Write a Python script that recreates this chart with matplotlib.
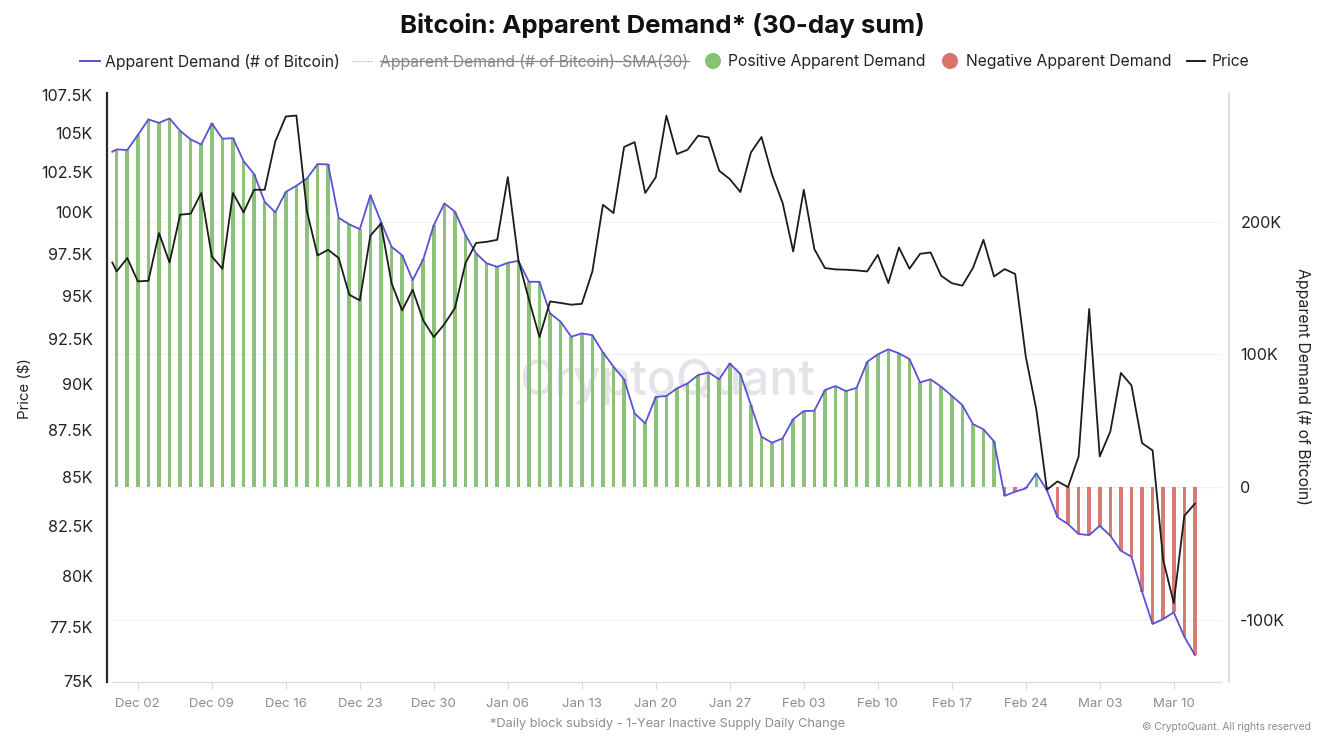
import matplotlib
matplotlib.use("Agg")
import matplotlib.pyplot as plt
import matplotlib.dates as mdates
import pandas as pd
from matplotlib.lines import Line2D
from matplotlib.patches import Ellipse
from matplotlib.ticker import FixedLocator, FixedFormatter, NullLocator
from matplotlib.transforms import ScaledTranslation

plt.rcParams['font.family'] = ['Inter', 'DejaVu Sans']

dates = pd.date_range('2024-11-30', periods=103, freq='D')
lead_in_date = pd.Timestamp('2024-11-29 14:00')

# Apparent demand, thousands of BTC (30-day sum)
demand_lead = 252.7
demand = [254.5, 254.0, 265.3, 277.1, 274.5, 277.8, 268.5, 262.0, 258.2, 274.1,
          262.5, 263.0, 245.7, 235.9, 215.0, 207.0, 222.5, 227.1, 232.6, 243.4,
          243.2, 202.9, 198.0, 194.4, 220.0, 199.9, 181.1, 174.8, 156.0, 171.6,
          197.4, 213.8, 207.5, 189.9, 176.1, 168.6, 166.0, 169.0, 170.5, 154.7,
          154.7, 130.9, 124.6, 113.3, 115.8, 114.5, 101.5, 90.7, 81.2, 55.5,
          48.0, 68.0, 68.6, 74.4, 78.1, 84.4, 86.4, 81.2, 93.2, 85.2,
          61.8, 37.9, 33.4, 36.7, 51.2, 57.3, 57.5, 73.1, 76.1, 72.3,
          74.8, 94.4, 100.0, 103.8, 100.8, 96.5, 78.9, 81.2, 75.6, 68.8,
          61.8, 47.5, 43.5, 34.4, -6.6, -3.5, -1.0, 10.3, -2.3, -22.8,
          -27.9, -35.4, -36.2, -29.2, -36.7, -48.0, -52.5, -78.9, -103.2, -99.5,
          -94.4, -112.8, -126.6]

# Bitcoin price, thousands of USD
price_lead = 96.93
price = [96.40, 97.20, 95.81, 95.85, 98.70, 96.93, 99.82, 99.88, 101.16, 97.29,
         96.56, 101.16, 99.96, 101.36, 101.36, 104.41, 106.03, 106.09, 100.02, 97.35,
         97.69, 97.20, 95.03, 94.70, 98.55, 99.27, 95.71, 94.12, 95.32, 93.54,
         92.59, 93.33, 94.26, 96.90, 98.10, 98.17, 98.29, 102.15, 97.09, 94.74,
         92.59, 94.64, 94.55, 94.45, 94.50, 96.40, 100.43, 99.92, 104.06, 104.37,
         101.16, 102.15, 106.08, 103.61, 103.88, 104.78, 104.67, 102.55, 102.03, 101.22,
         103.71, 104.70, 102.30, 100.54, 97.59, 101.36, 97.73, 96.60, 96.52, 96.50,
         96.46, 96.40, 97.39, 95.71, 97.83, 96.56, 97.45, 97.53, 96.14, 95.71,
         95.56, 96.60, 98.29, 96.10, 96.54, 96.25, 91.49, 88.55, 84.30, 84.73,
         84.44, 86.04, 94.20, 86.04, 87.37, 90.57, 89.88, 86.75, 86.36, 80.75,
         78.63, 82.96, 83.58]

price_ticks = [75, 77.5, 80, 82.5, 85, 87.5, 90, 92.5, 95, 97.5, 100, 102.5, 105, 107.5]
price_labels = ['75K', '77.5K', '80K', '82.5K', '85K', '87.5K', '90K', '92.5K',
                '95K', '97.5K', '100K', '102.5K', '105K', '107.5K']
demand_ticks = [-100, 0, 100, 200]
demand_labels = ['-100K', '0', '100K', '200K']
date_ticks = pd.date_range('2024-12-02', '2025-03-10', freq='7D')
date_labels = [d.strftime('%b %d') for d in date_ticks]

W, H = 1326, 752
PURPLE = '#5b50d8'
BLACK = '#1c1c1c'
GREEN = '#8cc27a'
RED = '#d97a74'
LEG_GREEN = '#86c46e'
LEG_RED = '#dc7169'
INK = '#232327'
GREY = '#8c8c94'
SOFT = '#d9d9dd'


def fx(x):
    return x / W


def fy(y):
    return 1 - y / H


fig = plt.figure(figsize=(W / 100, H / 100), dpi=100, facecolor='white')
left, right, top, bottom = 106.5, 1228.5, 93, 681.7
ax = fig.add_axes([fx(left), fy(bottom), (right - left) / W, (bottom - top) / H])
ax2 = ax.twinx()
ax.set_zorder(2)
ax2.set_zorder(1)
ax.patch.set_visible(False)

# x limits: Nov 30 sits at 116.7 px, one day is 10.57 px
d0 = dates[0]
ax.set_xlim(d0 - pd.Timedelta(days=0.965), d0 + pd.Timedelta(days=105.18))
grid_x0 = mdates.date2num(d0 - pd.Timedelta(days=0.4))
grid_x1 = mdates.date2num(d0 + pd.Timedelta(days=104.5))

# Price axis is logarithmic
ax.set_yscale('log')
ax.set_ylim(74.92, 107.57)
ax.yaxis.set_major_locator(FixedLocator(price_ticks))
ax.yaxis.set_major_formatter(FixedFormatter(price_labels))
ax.yaxis.set_minor_locator(NullLocator())
ax.tick_params(axis='y', which='both', length=0, labelsize=11.6, labelcolor=INK, pad=10)
nudge = ScaledTranslation(0, -0.5 / 72, fig.dpi_scale_trans)
for lab in ax.get_yticklabels():
    lab.set_transform(lab.get_transform() + nudge)

ax2.set_ylim(-146.7, 297.0)
ax2.set_yticks(demand_ticks)
ax2.set_yticklabels(demand_labels)
ax2.tick_params(axis='y', length=0, labelsize=11.6, labelcolor=INK, pad=8.5)

# Faint horizontal grid, stopping short of the axis lines
for v in demand_ticks:
    ax2.plot([grid_x0, grid_x1], [v, v], color='#f1f1f3', lw=0.9, zorder=1)

# Bars
bar_colors = [GREEN if v >= 0 else RED for v in demand]
ax2.bar(dates, demand, width=0.34, color=bar_colors, linewidth=0, zorder=3)

# Lines
ax2.plot([lead_in_date] + list(dates), [demand_lead] + demand, color=PURPLE, lw=1.3,
         solid_joinstyle='round', zorder=4)
ax.plot([lead_in_date] + list(dates), [price_lead] + price, color=BLACK, lw=1.3,
        solid_joinstyle='round', zorder=5)

# Date ticks
ax.set_xticks(date_ticks)
ax.set_xticklabels(date_labels)
ax.xaxis.set_minor_locator(NullLocator())
ax.tick_params(axis='x', length=5, width=0.8, color=SOFT, labelsize=9.5,
               labelcolor=GREY, pad=7)

# Spines
for a in (ax, ax2):
    a.spines['top'].set_visible(False)
    a.spines['left'].set_visible(False)
    a.spines['right'].set_visible(False)
    a.spines['bottom'].set_visible(False)
ax.spines['left'].set_visible(True)
ax.spines['left'].set_color('#2a2a2a')
ax.spines['left'].set_linewidth(1.6)
ax.spines['bottom'].set_visible(True)
ax.spines['bottom'].set_color(SOFT)
ax.spines['bottom'].set_linewidth(0.9)
ax.spines['bottom'].set_bounds(grid_x0, grid_x1)
ax2.spines['right'].set_visible(True)
ax2.spines['right'].set_color('#d5d5d8')
ax2.spines['right'].set_linewidth(1.1)

# Watermark
fig.text(fx(667), fy(382), 'CryptoQuant', ha='center', va='center', fontsize=34.7,
         color='#e3e3e9', zorder=0.5, fontweight='medium')

# Title
fig.text(fx(662.5), fy(25), 'Bitcoin: Apparent Demand* (30-day sum)', ha='center', va='center',
         fontsize=18.6, fontweight='bold', color='#111111')

# Legend, hand placed
LEG_Y = 61


def legend_line(x0, x1, color, lw, ls='-'):
    fig.add_artist(Line2D([fx(x0), fx(x1)], [fy(LEG_Y), fy(LEG_Y)], color=color, lw=lw, ls=ls,
                          transform=fig.transFigure))


def legend_text(x, s, color=INK):
    fig.text(fx(x), fy(LEG_Y + 0.5), s, ha='left', va='center', fontsize=11.3, color=color)


def legend_dot(x, color):
    fig.add_artist(Ellipse((fx(x), fy(LEG_Y)), 16 / W, 16 / H, facecolor=color, edgecolor='none',
                           transform=fig.transFigure))


legend_line(80, 100, PURPLE, 1.4)
legend_text(105, 'Apparent Demand (# of Bitcoin)')
legend_line(353, 373, '#9a9a9a', 0.8, ':')
legend_text(380, 'Apparent Demand (# of Bitcoin)-SMA(30)', '#85858c')
legend_line(380, 689, '#85858c', 0.9)
legend_dot(713, LEG_GREEN)
legend_text(728, 'Positive Apparent Demand')
legend_dot(950, LEG_RED)
legend_text(966, 'Negative Apparent Demand')
legend_line(1187, 1205, BLACK, 1.4)
legend_text(1212, 'Price')

# Axis titles
fig.text(fx(25), fy(389), 'Price ($)', rotation=90, ha='center', va='center', fontsize=10.8, color=INK)
fig.text(fx(1303), fy(386), 'Apparent Demand (# of Bitcoin)', rotation=270, ha='center', va='center',
         fontsize=11.4, color=INK)

# Notes
fig.text(fx(667), fy(724), '*Daily block subsidy - 1-Year Inactive Supply Daily Change', ha='center',
         va='center', fontsize=9.2, color=GREY)
fig.text(fx(1311), fy(727), '© CryptoQuant. All rights reserved', ha='right', va='center',
         fontsize=7.45, color=GREY)

fig.savefig('out.png', dpi=100, facecolor='white')
